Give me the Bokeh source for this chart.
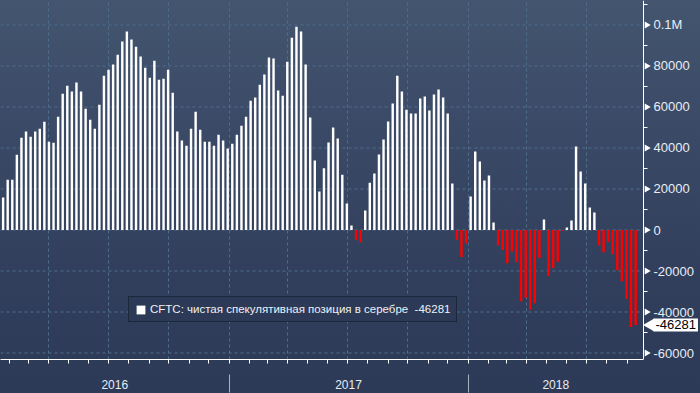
import numpy as np
import pandas as pd
from bokeh.plotting import figure
from bokeh.models import (Range1d, LinearAxis, FixedTicker, Grid, ColumnDataSource,
                          Legend, LegendItem, Label)
from bokeh.core.properties import value
from bokeh.embed import file_html
from bokeh.resources import INLINE

# ---------------- data ----------------
first_report = "2016-01-22"
net_position = [
    15800, 24500, 24500, 36700, 45000, 48000, 45500, 48000, 49400, 52800,
    43100, 42600, 55300, 66500, 70400, 67500, 71900, 67500, 59200, 53800,
    49400, 61100, 75300, 78200, 80700, 85500, 91900, 96800, 92900, 89400,
    84600, 79200, 74300, 82600, 73300, 73800, 78200, 67000, 48000, 43600,
    41100, 49400, 57700, 48900, 43100, 43100, 41100, 46500, 43600, 39700,
    42100, 46500, 50900, 55300, 63100, 64600, 70900, 75800, 84100, 83600,
    68000, 65500, 82100, 93800, 99200, 96800, 80700, 54900, 33900, 18800,
    30100, 42700, 50000, 44600, 27000, 12900, 2200, -4800, -6000, 9500,
    23100, 27500, 36800, 44100, 52900, 61700, 75300, 67500, 58700, 56800,
    56800, 64100, 65100, 58300, 66100, 68500, 64600, 56800, 22700, -4800,
    -13200, -6600, 16300, 38300, 33400, 24200, 26600, 3700, -7400, -9800,
    -16200, -10500, -15700, -34700, -33100, -38900, -35700, -13600, 5100, -22400,
    -18500, -15500, -500, 1200, 4600, 40700, 28500, 22700, 11000, 8500,
    -7400, -10800, -5900, -11800, -19600, -25000, -33700, -47300, -46281,
]
series_name = "CFTC: чистая спекулятивная позиция в серебре"
year_labels = ["2016", "2017", "2018"]
y_ticks = [-60000, -40000, -20000, 0, 20000, 40000, 60000, 80000, 100000]
y_tick_labels = ["-60000", "-40000", "-20000", "0", "20000", "40000", "60000", "80000", "0.1M"]

# ---------------- helpers ----------------
def ms(ts):
    return int(pd.Timestamp(ts).value // 1_000_000)

dates = pd.date_range(first_report, periods=len(net_position), freq="7D")
x_ms = [ms(d) for d in dates]
colors = ["#ffffff" if v >= 0 else "#ff0000" for v in net_position]
src = ColumnDataSource(dict(x=x_ms, v=net_position, c=colors))

W, H = 700, 393
AX = 643                      # pixel column of the value axis
x_start, x_end = ms("2016-01-18"), ms("2018-09-26")   # x_end sits on the value axis
span = x_end - x_start
px = span / AX                # data units per pixel
x_full_end = x_start + span * W / AX

p = figure(width=W, height=H, output_backend="svg", toolbar_location=None,
           x_range=Range1d(x_start, x_full_end), y_range=Range1d(-63170, 111950),
           x_axis_location=None, y_axis_location=None,
           min_border_left=0, min_border_top=0, min_border_right=0, min_border_bottom=34,
           background_fill_alpha=0, border_fill_alpha=0, outline_line_color=None)
p.styles = {"background": "linear-gradient(180deg, #43556f 0%, #3a4966 35%, #313f5c 70%, #2c3a57 100%)"}
p.xgrid.grid_line_color = None
p.ygrid.grid_line_color = None

# grids
grid_col = "#4f6e8d"
p.segment(x0=x_start, x1=x_end, y0=y_ticks, y1=y_ticks, line_color=grid_col,
          line_dash="3 3", line_width=1, level="underlay")
quarters = [ms(d) for d in pd.date_range("2016-01-01", "2018-12-31", freq="QS") if x_start < ms(d) < x_end]
p.add_layout(Grid(dimension=0, ticker=FixedTicker(ticks=quarters),
                  grid_line_color=grid_col, grid_line_dash="3 3"), "center")

r = p.vbar(x="x", top="v", bottom=0, width=3.7 * 86400000, fill_color="c",
           line_color=None, source=src)

# value axis (right, at fixed location so the tag can sit beside it)
minor_y = [t for t in range(-60000, 110001, 10000) if t not in y_ticks]
ya = LinearAxis(fixed_location=x_end,
                ticker=FixedTicker(ticks=y_ticks, minor_ticks=minor_y),
                major_label_overrides={t: s for t, s in zip(y_ticks, y_tick_labels)},
                axis_line_color="white", major_tick_line_color=None,
                major_tick_in=0, major_tick_out=6,
                minor_tick_line_color="white", minor_tick_in=0, minor_tick_out=4,
                major_label_standoff=4, major_label_text_color="#e8edf4",
                major_label_text_font="Liberation Sans", major_label_text_font_size="13px")
p.add_layout(ya, "right")
p.scatter(x=[x_end + 3.2 * px] * len(y_ticks), y=y_ticks, marker="triangle", size=7,
          angle=-np.pi / 2, fill_color="white", line_color=None)

# bottom axis: month ticks + year labels
months = [ms(d) for d in pd.date_range("2016-01-01", "2018-12-31", freq="MS") if x_start < ms(d) < x_end]
year_starts = [ms(f"{y}-01-01") for y in year_labels]
bounds = [x_start] + [b for b in year_starts if x_start < b < x_end] + [x_end]
centers = [int((a + b) // 2) for a, b in zip(bounds[:-1], bounds[1:])]
seps = bounds[1:-1]
xa1 = LinearAxis(bounds=(x_start, x_end),
                 ticker=FixedTicker(ticks=centers, minor_ticks=months),
                 axis_line_color="white", major_tick_line_color=None,
                 major_tick_in=0, major_tick_out=0,
                 minor_tick_line_color="white", minor_tick_in=0, minor_tick_out=4,
                 major_label_overrides={c: s for c, s in zip(centers, year_labels)},
                 major_label_standoff=16, major_label_text_color="#e8edf4",
                 major_label_text_font="Liberation Sans", major_label_text_font_size="12px")
p.add_layout(xa1, "below")
xa2 = LinearAxis(bounds=(x_start, x_end), ticker=FixedTicker(ticks=seps),
                 axis_line_color=None, major_tick_line_color="#a9b2c1",
                 major_tick_in=17, major_tick_out=1,
                 major_label_text_font_size="0px", major_label_standoff=0,
                 major_label_overrides={s: "" for s in seps})
p.add_layout(xa2, "below")

# legend
last = net_position[-1]
legend = Legend(items=[LegendItem(label=value(f"{series_name}\u00a0 {last}"), renderers=[r], index=0)],
                location=(128, 37), background_fill_color="#2c3a57", background_fill_alpha=1,
                border_line_color="#0e1420", border_line_width=1,
                label_text_color="#eef1f6", label_text_font="Liberation Sans",
                label_text_font_size="11.5px", glyph_width=11, glyph_height=11,
                label_height=12, label_standoff=4, padding=6, margin=0, spacing=0)
p.add_layout(legend)

# last value tag
p.scatter(x=[x_end + 7 * px], y=[last], marker="triangle", size=13, angle=np.pi / 2,
          fill_color="white", line_color=None)
p.add_layout(Label(x=x_end + 10 * px, y=last, text=str(last), text_baseline="middle",
                   text_font="Liberation Sans", text_font_size="13px", text_color="black",
                   background_fill_color="white", padding=2))

open("out.html", "w").write(file_html(p, INLINE))
